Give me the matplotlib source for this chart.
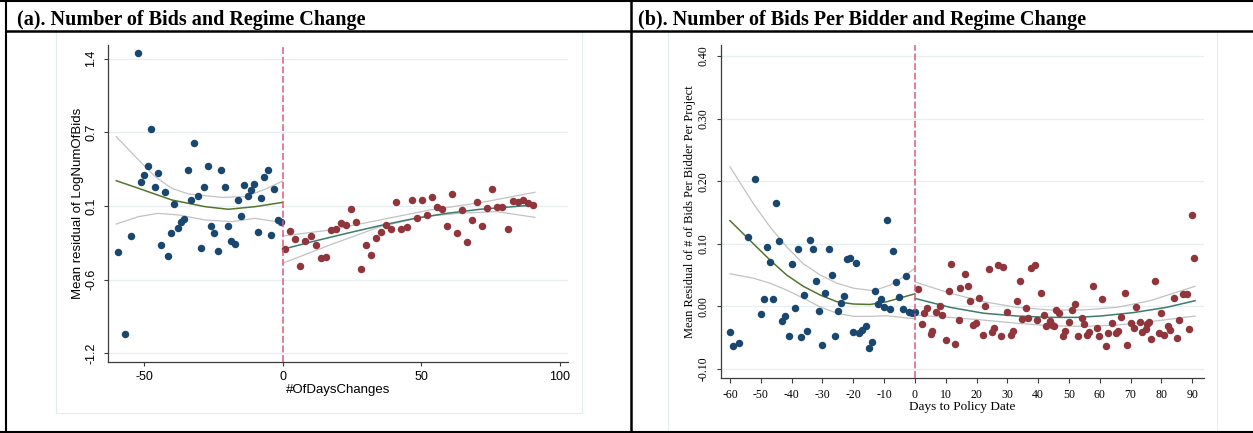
import matplotlib.pyplot as plt
from matplotlib.lines import Line2D
from matplotlib.patches import Rectangle

W, H = 1253, 433

# ---- panel (a): number of bids ----
a_pre_x = [-59.4, -57.0, -54.6, -52.2, -51.0, -49.9, -48.6, -47.4, -46.2, -45.0,
           -43.8, -42.6, -41.4, -40.2, -39.1, -37.8, -36.6, -35.5, -34.2, -32.9,
           -31.9, -30.5, -29.3, -28.3, -26.9, -25.9, -24.7, -23.3, -22.1, -20.9,
           -19.8, -18.6, -17.3, -16.2, -15.0, -13.8, -12.6, -11.4, -10.2, -9.0,
           -7.8, -6.6, -5.4, -4.2, -3.0, -1.8, -0.6]
a_pre_y = [-0.356, -1.076, -0.215, 1.396, 0.262, 0.320, 0.406, 0.732, 0.215, 0.338,
           -0.294, 0.173, -0.391, -0.191, 0.068, -0.147, -0.088, -0.062, 0.367, 0.106,
           0.603, 0.135, -0.323, 0.218, 0.400, -0.123, -0.185, -0.347, 0.367, 0.218,
           -0.123, -0.259, -0.285, 0.100, -0.038, 0.235, 0.141, 0.188, 0.241, -0.182,
           0.118, 0.303, 0.367, -0.209, 0.200, -0.073, -0.088]
a_post_x = [0.8, 2.8, 4.6, 6.4, 8.2, 10.1, 11.9, 13.7, 15.5, 17.3,
            19.1, 20.9, 22.8, 24.6, 26.4, 28.2, 30.1, 31.9, 33.8, 35.6,
            37.4, 39.2, 41.0, 42.8, 44.7, 46.5, 48.3, 50.1, 51.9, 53.7,
            55.5, 57.5, 59.3, 61.1, 62.9, 64.7, 66.5, 68.4, 70.2, 72.0,
            73.8, 75.6, 77.4, 79.2, 81.2, 83.0, 84.8, 86.6, 88.4, 90.2]
a_post_y = [-0.332, -0.168, -0.244, -0.479, -0.259, -0.215, -0.294, -0.406, -0.400, -0.162,
            -0.150, -0.103, -0.118, 0.021, -0.094, -0.503, -0.294, -0.382, -0.232, -0.176,
            -0.120, -0.153, 0.082, -0.156, -0.135, 0.100, -0.059, 0.103, -0.032, 0.129,
            0.038, 0.021, -0.126, 0.153, -0.185, 0.015, -0.270, -0.073, 0.082, -0.123,
            0.032, 0.200, 0.041, 0.038, -0.150, 0.094, 0.082, 0.103, 0.076, 0.056]

# fitted curves
a_fit_pre_x = [-60, -52, -40, -28, -19.6, -10, 0]
a_fit_pre_y = [0.273, 0.206, 0.103, 0.044, 0.021, 0.044, 0.082]
a_hi_pre_x = [-60, -52, -46, -40, -34, -22, -13.6, -6.4, 0]
a_hi_pre_y = [0.661, 0.456, 0.309, 0.206, 0.156, 0.126, 0.132, 0.197, 0.270]
a_lo_pre_x = [-60, -52, -45, -37.6, -28, -18.4, -10, 0]
a_lo_pre_y = [-0.109, -0.044, -0.015, -0.029, -0.073, -0.088, -0.059, -0.097]
a_fit_post_x = [0, 11.1, 23.1, 35.1, 47.1, 59.1, 71.2, 83.2, 91]
a_fit_post_y = [-0.332, -0.262, -0.191, -0.123, -0.062, -0.015, 0.021, 0.044, 0.059]
a_hi_post_x = [0, 17, 35.1, 53.1, 71.2, 91]
a_hi_post_y = [-0.215, -0.162, -0.073, 0.015, 0.079, 0.171]
a_lo_post_x = [0, 17, 35.1, 50.7, 65, 77.2, 91]
a_lo_post_y = [-0.455, -0.294, -0.133, -0.044, -0.012, 0.0, -0.05]

a_xticks = [-50, 0, 50, 100]
a_yticks = [-1.25, -0.6, 0.05, 0.7, 1.35]
a_ylabels = ["-1.2", "-0.6", "0.1", "0.7", "1.4"]

# ---- panel (b): bids per bidder ----
b_pre_x = [-60, -59, -57, -54, -52, -50, -49, -48, -47, -46, -45, -44, -43, -42,
           -41, -40, -39, -38, -37, -36, -35, -34, -33, -32, -31, -30, -29, -28,
           -27, -26, -25, -24, -23, -22, -21, -20, -19, -18, -17, -16, -15, -14,
           -13, -12, -11, -10, -9, -8, -7, -6, -5, -4, -3, -2, -1, 0]
b_pre_y = [-0.041, -0.063, -0.058, 0.111, 0.204, -0.013, 0.011, 0.094, 0.071, 0.012,
           0.165, 0.104, -0.023, -0.015, -0.047, 0.068, -0.003, 0.091, -0.049, 0.018,
           -0.039, 0.106, 0.091, 0.040, -0.007, -0.061, 0.022, 0.091, 0.050, -0.048,
           -0.008, 0.005, 0.016, 0.075, 0.077, -0.041, 0.070, -0.043, -0.038, -0.031,
           -0.066, -0.057, 0.024, 0.003, 0.012, -0.001, 0.138, -0.004, 0.089, 0.039,
           0.015, -0.005, 0.049, -0.009, -0.010, -0.009]
b_post_x = [0.9, 2.2, 2.8, 4.0, 5.2, 5.7, 6.9, 8.1, 8.7, 10.0, 11.2, 11.8, 13.1, 14.3,
            14.8, 16.1, 17.3, 17.8, 19.0, 19.7, 20.9, 22.0, 22.7, 23.9, 25.1, 25.7,
            26.9, 28.1, 28.7, 29.9, 31.1, 31.8, 33.0, 34.1, 34.8, 36.0, 36.6, 37.8,
            39.0, 39.7, 40.8, 42.0, 42.7, 43.9, 44.4, 45.1, 45.7, 46.9, 48.1, 48.6,
            49.9, 51.1, 51.8, 53.0, 54.1, 54.8, 56.0, 56.6, 57.8, 59.0, 59.8, 60.8,
            62.1, 62.7, 63.9, 65.1, 65.8, 67.0, 68.2, 68.8, 70.0, 71.2, 71.9, 73.1,
            73.7, 74.9, 75.4, 76.1, 76.7, 77.9, 79.1, 79.8, 80.9, 82.1, 82.8, 84.0,
            85.2, 85.7, 87.0, 88.2, 88.8, 90.0, 90.6]
b_post_y = [0.028, -0.029, -0.011, -0.003, -0.044, -0.040, -0.009, 0.000, -0.014, -0.054,
            0.024, 0.067, -0.060, -0.022, 0.030, 0.052, 0.032, 0.008, -0.030, -0.027,
            0.013, -0.045, 0.001, 0.060, -0.041, -0.034, 0.066, -0.048, 0.063, -0.009,
            -0.046, -0.040, 0.009, 0.040, -0.021, -0.002, -0.018, 0.061, 0.066, -0.022,
            0.022, -0.014, -0.031, -0.023, -0.030, -0.032, -0.006, -0.011, -0.047, -0.040,
            -0.025, -0.006, 0.003, -0.047, -0.018, -0.028, -0.045, -0.041, 0.032, -0.035,
            -0.047, 0.011, -0.063, -0.042, -0.027, -0.042, -0.039, -0.017, 0.022, -0.061,
            -0.027, -0.034, -0.001, -0.025, -0.041, -0.036, -0.029, -0.025, -0.052, 0.041,
            -0.043, -0.010, -0.046, -0.032, -0.037, 0.013, -0.050, -0.022, 0.020, 0.020,
            -0.036, 0.146, 0.077]

b_fit_pre_x = [-60, -52.4, -47, -41.6, -36.2, -30.7, -25.3, -19.9, -14.5, -9.1, 0]
b_fit_pre_y = [0.137, 0.100, 0.074, 0.050, 0.032, 0.018, 0.0074, 0.0037, 0.003, 0.0074, 0.020]
b_hi_pre_x = [-60, -52.4, -47, -41.6, -36.2, -30.7, -25.3, -19.9, -13.4, -8, -3.7, 0]
b_hi_pre_y = [0.223, 0.164, 0.127, 0.095, 0.068, 0.050, 0.037, 0.029, 0.025, 0.034, 0.047, 0.061]
b_lo_pre_x = [-60, -52.4, -47, -41.6, -36.2, -30.7, -25.3, -19.9, -14.5, -9.1, 0]
b_lo_pre_y = [0.052, 0.045, 0.037, 0.026, 0.013, -0.001, -0.011, -0.016, -0.016, -0.015, -0.020]
b_fit_post_x = [0, 11.4, 22.3, 33.1, 43.9, 52.5, 60.1, 70.9, 81.7, 90.9]
b_fit_post_y = [0.0127, -0.0016, -0.011, -0.0155, -0.0176, -0.0176, -0.0155, -0.010, -0.0016, 0.009]
b_hi_post_x = [0, 11.4, 22.3, 33.1, 43.9, 54.7, 65.5, 76.3, 90.9]
b_hi_post_y = [0.039, 0.021, 0.0074, -0.0016, -0.0058, -0.0058, -0.0016, 0.009, 0.032]
b_lo_post_x = [0, 11.4, 22.3, 33.1, 43.9, 54.7, 65.5, 76.3, 90.9]
b_lo_post_y = [-0.014, -0.0176, -0.022, -0.027, -0.031, -0.032, -0.030, -0.0245, -0.0155]

b_xticks = list(range(-60, 91, 10))
b_yticks = [-0.10, 0.0, 0.10, 0.20, 0.30, 0.40]
b_ylabels = ["-0.10", "0.00", "0.10", "0.20", "0.30", "0.40"]

NAVY = "#1a476f"
MAROON = "#90353b"
GREEN = "#55752f"
TEAL = "#3e7b6c"
GREY = "#c2c2c2"
DASH = "#dc5a7c"
GRID = "#e6eef0"
SPINE = "#3c3c3c"


def fx(p):
    return p / W


def fy(p):
    return 1 - p / H


def draw_panel(ax, pre, post, curves):
    for s in ("top", "right"):
        ax.spines[s].set_visible(False)
    for s in ("left", "bottom"):
        ax.spines[s].set_color(SPINE)
        ax.spines[s].set_linewidth(0.9)
    ax.grid(axis="y", color=GRID, lw=0.9)
    ax.set_axisbelow(True)

    for (cx, cy), col in curves:
        ax.plot(cx, cy, color=col, lw=0.9 if col == GREY else 1.1, zorder=2)
    ax.scatter(*pre, s=29, color=NAVY, linewidths=0, zorder=3)
    ax.scatter(*post, s=29, color=MAROON, linewidths=0, zorder=3)
    ax.axvline(0, color=DASH, lw=1.1, dashes=(4.5, 1.8), zorder=4)


fig = plt.figure(figsize=(W / 100, H / 100), dpi=100)

# table frame around the two panels
for x0, y0, x1, y1, lw in [
    (0, 1, W, 1, 1.5),
    (5.7, 30.5, W, 30.5, 1.8),
    (0, 431.8, W, 431.8, 1.5),
    (5.7, 0, 5.7, H, 1.5),
    (630.7, 0, 630.7, H, 1.8),
]:
    fig.add_artist(Line2D([fx(x0), fx(x1)], [fy(y0), fy(y1)], color="black", lw=lw))

# light graph-region frames
fig.add_artist(Rectangle((fx(56), fy(413)), fx(582 - 56), (413 - 31) / H,
                         fill=False, edgecolor="#e4ecee", lw=0.8))
fig.add_artist(Rectangle((fx(668), fy(431)), fx(1217 - 668), (431 - 31) / H,
                         fill=False, edgecolor="#e4ecee", lw=0.8))

title_kw = dict(fontfamily="Liberation Serif", fontweight="bold", fontsize=14.5, va="baseline")
fig.text(fx(17), fy(25), "(a). Number of Bids and Regime Change", **title_kw)
fig.text(fx(638), fy(25), "(b). Number of Bids Per Bidder and Regime Change", **title_kw)

# ---- panel (a)
ax1 = fig.add_axes([fx(108.3), fy(362), fx(568 - 108.3), (362 - 45) / H])
draw_panel(ax1, (a_pre_x, a_pre_y), (a_post_x, a_post_y),
           [((a_hi_pre_x, a_hi_pre_y), GREY), ((a_lo_pre_x, a_lo_pre_y), GREY),
            ((a_fit_pre_x, a_fit_pre_y), GREEN),
            ((a_hi_post_x, a_hi_post_y), GREY), ((a_lo_post_x, a_lo_post_y), GREY),
            ((a_fit_post_x, a_fit_post_y), TEAL)])
ax1.set_xlim(-62.9, 102.9)
ax1.set_ylim(-1.326, 1.470)
ax1.set_xticks(a_xticks, [str(t) for t in a_xticks], fontfamily="Liberation Sans", fontsize=9)
ax1.set_yticks(a_yticks, a_ylabels, fontfamily="Liberation Sans", fontsize=9,
               rotation=90, va="center")
ax1.tick_params(axis="x", length=3.2, width=0.8, color=SPINE, pad=3.5)
ax1.tick_params(axis="y", length=3.0, width=0.8, color=SPINE, pad=5)
ax1.set_xlabel("#OfDaysChanges", fontfamily="Liberation Sans", fontsize=9.5, va="center")
ax1.set_ylabel("Mean residual of LogNumOfBids", fontfamily="Liberation Sans",
               fontsize=9.5, va="center")
ax1.xaxis.set_label_coords(0.5, (362 - 390) / 317)
ax1.yaxis.set_label_coords((78 - 108.3) / 459.7, 0.5)

# ---- panel (b)
ax2 = fig.add_axes([fx(721), fy(377.7), fx(1204 - 721), (377.7 - 45) / H])
draw_panel(ax2, (b_pre_x, b_pre_y), (b_post_x, b_post_y),
           [((b_hi_pre_x, b_hi_pre_y), GREY), ((b_lo_pre_x, b_lo_pre_y), GREY),
            ((b_fit_pre_x, b_fit_pre_y), GREEN),
            ((b_hi_post_x, b_hi_post_y), GREY), ((b_lo_post_x, b_lo_post_y), GREY),
            ((b_fit_post_x, b_fit_post_y), TEAL)])
ax2.set_xlim(-62.9, 93.8)
ax2.set_ylim(-0.114, 0.4175)
ax2.set_xticks(b_xticks, [str(t) for t in b_xticks], fontfamily="Liberation Serif", fontsize=8.5)
ax2.set_yticks(b_yticks, b_ylabels, fontfamily="Liberation Serif", fontsize=8.5,
               rotation=90, va="center")
ax2.tick_params(axis="x", length=3.5, width=0.8, color=SPINE, pad=4.5)
ax2.tick_params(axis="y", length=3.0, width=0.8, color=SPINE, pad=5)
ax2.set_xlabel("Days to Policy Date", fontfamily="Liberation Serif", fontsize=9.5, va="center")
ax2.set_ylabel("Mean Residual of # of Bids Per Bidder Per Project",
               fontfamily="Liberation Serif", fontsize=9, va="center")
ax2.xaxis.set_label_coords(0.5, (377.7 - 407) / 332.7)
ax2.yaxis.set_label_coords((690 - 721) / 483, 0.5)

fig.savefig("out.png", dpi=100)
